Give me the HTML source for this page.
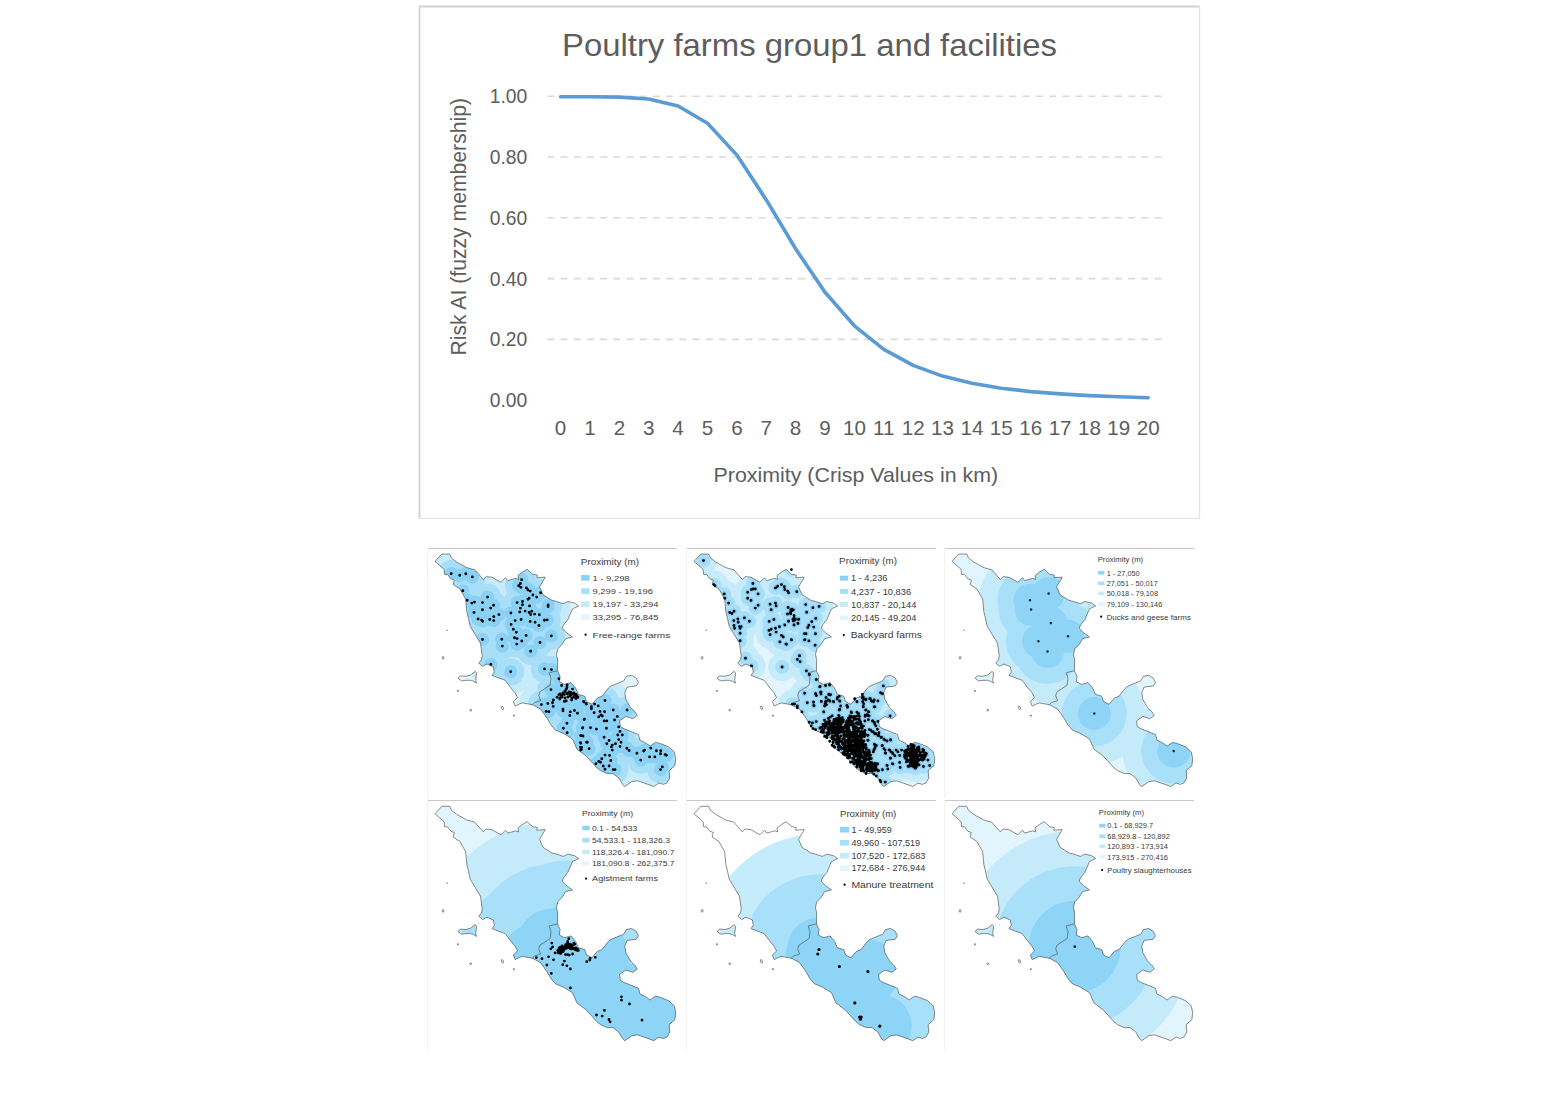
<!DOCTYPE html><html><head><meta charset="utf-8"><style>html,body{margin:0;padding:0;background:#fff;overflow:hidden}svg{display:block}text{font-family:"Liberation Sans",sans-serif}</style></head><body>
<svg width="1559" height="1099" viewBox="0 0 1559 1099">
<defs>
<path id="lz" d="M8.0,14.2 14.8,6.8 22.7,6.8 24.5,10.8 29.6,14.8 39.8,20.5 47.8,22.7 56.3,32.4 59.1,29.6 64.8,30.1 73.9,35.3 78.5,30.7 80.8,33.6 88.7,31.3 91.6,32.4 91.0,28.4 95.5,25.0 100.1,22.2 105.8,27.3 110.3,27.9 109.8,30.7 118.3,30.1 112.6,39.8 116.0,47.8 125.0,53.5 129.5,54.6 136.4,56.9 140.9,54.6 147.7,56.3 151.7,59.1 145.5,62.0 140.9,72.8 136.4,78.5 135.2,81.9 139.8,86.4 145.5,90.4 138.6,92.1 135.2,97.8 130.7,102.4 129.5,108.1 130.7,113.7 130.4,124.6 133.1,130.0 132.2,135.5 137.7,138.2 144.0,136.4 148.6,141.9 151.3,148.2 157.7,150.1 159.5,155.5 165.0,158.3 170.4,151.9 175.0,150.1 181.4,141.9 184.1,139.8 196.7,134.7 199.5,130.1 204.6,129.0 209.2,131.8 211.4,136.4 209.2,139.8 200.1,140.9 197.8,146.6 198.9,153.4 203.5,161.4 208.0,166.0 210.3,169.4 205.8,172.8 198.9,170.5 192.6,174.9 193.3,180.7 196.9,182.9 204.2,185.8 211.5,188.8 213.0,194.6 218.0,196.8 223.2,200.4 228.3,196.8 232.6,197.5 241.4,201.1 247.2,206.2 248.7,212.8 247.9,220.1 242.1,225.2 242.8,232.5 239.9,237.6 236.3,239.0 231.9,237.6 226.8,241.2 221.0,239.0 210.8,235.4 205.0,236.1 197.7,241.2 195.5,239.0 191.8,232.5 186.0,228.1 180.2,228.1 173.6,225.2 170.0,222.3 159.1,210.3 150.0,203.5 145.5,193.2 136.4,187.6 128.3,184.2 123.7,178.7 120.1,172.3 113.7,163.2 105.5,158.7 95.5,156.9 92.8,157.8 88.2,160.1 86.4,155.5 90.5,151.4 88.2,146.9 83.7,141.4 78.2,134.1 70.9,131.4 65.0,129.1 67.3,125.9 66.4,120.5 60.0,117.7 55.5,120.0 51.8,116.8 54.6,113.2 55.2,109.2 53.5,96.7 43.2,79.6 41.5,71.7 39.8,64.8 38.7,52.3 33.0,42.1 26.2,37.5 27.3,33.0 23.9,31.8 20.5,27.3 17.6,27.3 17.1,22.2Z"/>
<path id="elba" d="M31.4,131.4 33.6,129.6 39.1,130.0 43.6,128.7 48.2,125.0 49.6,126.8 48.7,134.1 49.6,136.9 46.4,135.0 43.6,134.1 39.1,134.1 34.5,134.6 31.8,132.8Z"/>
<path id="isl" d="M19.9,83.1 l0.6,0.6 l-0.6,0.4 z M15.2,111.4 a0.9,1.4 0 1,0 1.8,0 a0.9,1.4 0 1,0 -1.8,0 z M30.3,144.3 l1.2,0 l-0.6,1.4 z M42.8,164.2 a0.9,0.9 0 1,0 1.8,0 a0.9,0.9 0 1,0 -1.8,0 z M74.4,160.2 l1.5,0.3 l0.8,2.6 l-1.1,0.6 l-1.3,-2 z M86.4,169.2 l1,0 l0,1 l-1,0 z M51.2,124 l0.4,0.4 M55.3,125 l0.4,0.3"/>
<clipPath id="clz1"><path transform="translate(0,-0.7) scale(1,0.992)" d="M8.0,14.2 14.8,6.8 22.7,6.8 24.5,10.8 29.6,14.8 39.8,20.5 47.8,22.7 56.3,32.4 59.1,29.6 64.8,30.1 73.9,35.3 78.5,30.7 80.8,33.6 88.7,31.3 91.6,32.4 91.0,28.4 95.5,25.0 100.1,22.2 105.8,27.3 110.3,27.9 109.8,30.7 118.3,30.1 112.6,39.8 116.0,47.8 125.0,53.5 129.5,54.6 136.4,56.9 140.9,54.6 147.7,56.3 151.7,59.1 145.5,62.0 140.9,72.8 136.4,78.5 135.2,81.9 139.8,86.4 145.5,90.4 138.6,92.1 135.2,97.8 130.7,102.4 129.5,108.1 130.7,113.7 130.4,124.6 133.1,130.0 132.2,135.5 137.7,138.2 144.0,136.4 148.6,141.9 151.3,148.2 157.7,150.1 159.5,155.5 165.0,158.3 170.4,151.9 175.0,150.1 181.4,141.9 184.1,139.8 196.7,134.7 199.5,130.1 204.6,129.0 209.2,131.8 211.4,136.4 209.2,139.8 200.1,140.9 197.8,146.6 198.9,153.4 203.5,161.4 208.0,166.0 210.3,169.4 205.8,172.8 198.9,170.5 192.6,174.9 193.3,180.7 196.9,182.9 204.2,185.8 211.5,188.8 213.0,194.6 218.0,196.8 223.2,200.4 228.3,196.8 232.6,197.5 241.4,201.1 247.2,206.2 248.7,212.8 247.9,220.1 242.1,225.2 242.8,232.5 239.9,237.6 236.3,239.0 231.9,237.6 226.8,241.2 221.0,239.0 210.8,235.4 205.0,236.1 197.7,241.2 195.5,239.0 191.8,232.5 186.0,228.1 180.2,228.1 173.6,225.2 170.0,222.3 159.1,210.3 150.0,203.5 145.5,193.2 136.4,187.6 128.3,184.2 123.7,178.7 120.1,172.3 113.7,163.2 105.5,158.7 95.5,156.9 92.8,157.8 88.2,160.1 86.4,155.5 90.5,151.4 88.2,146.9 83.7,141.4 78.2,134.1 70.9,131.4 65.0,129.1 67.3,125.9 66.4,120.5 60.0,117.7 55.5,120.0 51.8,116.8 54.6,113.2 55.2,109.2 53.5,96.7 43.2,79.6 41.5,71.7 39.8,64.8 38.7,52.3 33.0,42.1 26.2,37.5 27.3,33.0 23.9,31.8 20.5,27.3 17.6,27.3 17.1,22.2Z"/><path transform="translate(0,-0.7) scale(1,0.992)" d="M31.4,131.4 33.6,129.6 39.1,130.0 43.6,128.7 48.2,125.0 49.6,126.8 48.7,134.1 49.6,136.9 46.4,135.0 43.6,134.1 39.1,134.1 34.5,134.6 31.8,132.8Z"/></clipPath>
<clipPath id="clz2"><path transform="translate(0,-0.5)" d="M8.0,14.2 14.8,6.8 22.7,6.8 24.5,10.8 29.6,14.8 39.8,20.5 47.8,22.7 56.3,32.4 59.1,29.6 64.8,30.1 73.9,35.3 78.5,30.7 80.8,33.6 88.7,31.3 91.6,32.4 91.0,28.4 95.5,25.0 100.1,22.2 105.8,27.3 110.3,27.9 109.8,30.7 118.3,30.1 112.6,39.8 116.0,47.8 125.0,53.5 129.5,54.6 136.4,56.9 140.9,54.6 147.7,56.3 151.7,59.1 145.5,62.0 140.9,72.8 136.4,78.5 135.2,81.9 139.8,86.4 145.5,90.4 138.6,92.1 135.2,97.8 130.7,102.4 129.5,108.1 130.7,113.7 130.4,124.6 133.1,130.0 132.2,135.5 137.7,138.2 144.0,136.4 148.6,141.9 151.3,148.2 157.7,150.1 159.5,155.5 165.0,158.3 170.4,151.9 175.0,150.1 181.4,141.9 184.1,139.8 196.7,134.7 199.5,130.1 204.6,129.0 209.2,131.8 211.4,136.4 209.2,139.8 200.1,140.9 197.8,146.6 198.9,153.4 203.5,161.4 208.0,166.0 210.3,169.4 205.8,172.8 198.9,170.5 192.6,174.9 193.3,180.7 196.9,182.9 204.2,185.8 211.5,188.8 213.0,194.6 218.0,196.8 223.2,200.4 228.3,196.8 232.6,197.5 241.4,201.1 247.2,206.2 248.7,212.8 247.9,220.1 242.1,225.2 242.8,232.5 239.9,237.6 236.3,239.0 231.9,237.6 226.8,241.2 221.0,239.0 210.8,235.4 205.0,236.1 197.7,241.2 195.5,239.0 191.8,232.5 186.0,228.1 180.2,228.1 173.6,225.2 170.0,222.3 159.1,210.3 150.0,203.5 145.5,193.2 136.4,187.6 128.3,184.2 123.7,178.7 120.1,172.3 113.7,163.2 105.5,158.7 95.5,156.9 92.8,157.8 88.2,160.1 86.4,155.5 90.5,151.4 88.2,146.9 83.7,141.4 78.2,134.1 70.9,131.4 65.0,129.1 67.3,125.9 66.4,120.5 60.0,117.7 55.5,120.0 51.8,116.8 54.6,113.2 55.2,109.2 53.5,96.7 43.2,79.6 41.5,71.7 39.8,64.8 38.7,52.3 33.0,42.1 26.2,37.5 27.3,33.0 23.9,31.8 20.5,27.3 17.6,27.3 17.1,22.2Z"/><path transform="translate(0,-0.5)" d="M31.4,131.4 33.6,129.6 39.1,130.0 43.6,128.7 48.2,125.0 49.6,126.8 48.7,134.1 49.6,136.9 46.4,135.0 43.6,134.1 39.1,134.1 34.5,134.6 31.8,132.8Z"/></clipPath>
<path id="d0" d="M24.2 25.7h0M32.8 27.3h0M38.8 25.7h0M45.3 28.9h0M35.8 42.8h0M40.2 52.2h0M44.8 55.1h0M47.5 54.1h0M47.0 64.4h0M55.5 54.6h0M55.5 61.7h0M60.6 49.1h0M63.7 60.1h0M66.6 57.3h0M71.9 66.6h0M66.8 68.8h0M66.8 72.6h0M62.8 71.5h0M51.1 71.0h0M54.6 72.1h0M55.7 73.2h0M55.5 91.5h0M74.8 91.2h0M75.3 98.1h0M63.9 116.3h0M83.9 65.0h0M88.2 72.6h0M84.1 76.4h0M86.3 81.3h0M89.3 84.3h0M87.4 89.8h0M90.1 90.6h0M89.8 96.1h0M94.8 93.0h0M99.1 87.4h0M103.7 103.2h0M113.0 94.5h0M94.6 31.7h0M93.4 35.5h0M91.7 37.7h0M93.9 39.3h0M99.4 39.9h0M101.0 42.0h0M103.2 43.1h0M113.6 44.8h0M105.9 47.0h0M109.7 49.1h0M102.1 50.2h0M101.0 51.3h0M90.1 54.6h0M95.5 53.5h0M95.5 56.8h0M93.4 60.1h0M102.6 57.9h0M92.8 63.9h0M98.1 63.1h0M102.1 64.4h0M104.8 63.3h0M103.7 66.6h0M107.6 66.1h0M112.3 66.8h0M94.1 71.5h0M103.2 73.4h0M108.1 74.3h0M111.9 77.5h0M117.4 72.1h0M121.1 57.0h0M121.1 58.6h0M117.3 72.3h0M120.2 71.9h0M112.0 77.7h0M124.3 87.9h0M83.7 123.8h0M117.5 120.9h0M124.4 121.6h0M131.9 130.7h0M134.6 137.5h0M140.1 137.0h0M139.2 141.1h0M145.5 141.1h0M138.3 143.8h0M131.9 146.6h0M134.6 147.5h0M137.3 146.6h0M140.1 145.7h0M142.8 146.1h0M144.6 146.6h0M146.4 146.1h0M148.3 147.5h0M151.0 149.3h0M144.6 152.0h0M139.2 152.9h0M137.3 153.4h0M132.8 151.1h0M130.1 149.3h0M126.4 152.0h0M125.5 154.8h0M126.2 158.4h0M120.8 155.5h0M114.4 156.6h0M124.0 141.6h0M119.1 163.4h0M121.9 163.7h0M136.0 161.1h0M136.0 162.8h0M143.3 163.9h0M147.4 162.5h0M150.5 165.2h0M142.8 167.5h0M157.2 171.6h0M139.9 175.2h0M136.3 180.2h0M140.1 184.8h0M155.5 180.1h0M153.7 187.5h0M156.0 188.0h0M153.7 195.3h0M154.6 199.4h0M153.7 202.1h0M159.6 194.3h0M156.9 153.9h0M159.2 155.7h0M140.0 139.0h0M139.5 141.0h0M138.0 143.0h0M136.0 145.0h0M133.0 146.0h0M142.0 144.0h0M144.0 144.5h0M147.0 145.0h0M149.0 146.5h0M150.0 148.0h0M143.0 148.0h0M141.0 149.0h0M135.0 149.0h0M133.0 150.0h0M145.0 150.0h0M147.0 149.0h0M138.0 150.0h0M149.0 150.5h0M178.0 152.5h0M156.6 153.4h0M159.4 156.1h0M167.6 156.1h0M171.2 157.9h0M164.4 158.8h0M164.4 160.7h0M167.1 164.8h0M173.0 163.4h0M177.6 163.8h0M186.2 162.0h0M200.1 162.0h0M173.9 167.0h0M171.7 168.9h0M175.3 168.0h0M190.3 168.4h0M187.6 172.0h0M177.1 172.9h0M179.8 172.9h0M157.4 171.3h0M155.7 179.8h0M163.5 179.8h0M169.4 181.1h0M179.4 180.2h0M191.7 178.9h0M193.0 183.4h0M190.8 187.0h0M195.3 187.0h0M153.9 187.5h0M177.1 189.3h0M182.1 192.5h0M191.7 191.6h0M194.0 194.3h0M188.5 195.7h0M185.3 197.1h0M193.0 198.4h0M184.4 198.9h0M179.8 195.7h0M160.3 194.3h0M162.1 200.7h0M185.3 202.1h0M199.9 200.2h0M202.1 202.5h0M209.9 205.2h0M216.7 203.0h0M217.6 202.1h0M223.8 200.1h0M229.4 202.8h0M233.8 202.8h0M233.5 205.7h0M238.1 206.6h0M239.4 207.3h0M222.6 208.9h0M227.8 208.9h0M213.8 212.1h0M178.0 207.1h0M182.6 207.5h0M174.8 210.7h0M183.8 212.5h0M171.7 213.4h0M173.5 214.3h0M168.9 215.7h0M176.2 218.0h0M182.1 218.0h0M178.0 221.2h0M186.2 221.6h0M188.0 221.6h0M235.3 218.9h0M233.5 221.6h0M153.5 194.8h0M153.5 199.3h0M154.4 201.6h0"/>
<path id="d1" d="M17.5 12.6h0M105.4 21.6h0M27.8 36.6h0M28.9 37.7h0M38.2 45.9h0M38.8 50.2h0M42.6 55.1h0M43.7 64.4h0M45.9 65.5h0M48.0 63.3h0M47.8 72.6h0M51.9 71.0h0M52.2 74.3h0M48.0 77.5h0M48.6 80.3h0M53.5 78.6h0M55.1 78.6h0M54.1 80.3h0M54.1 85.2h0M54.1 92.8h0M58.4 69.9h0M63.3 73.2h0M59.5 110.3h0M65.5 117.9h0M66.9 35.5h0M65.5 41.5h0M67.2 40.9h0M69.3 40.9h0M61.7 44.2h0M72.1 45.9h0M61.7 50.2h0M65.0 52.4h0M72.1 57.3h0M69.3 60.1h0M89.5 39.9h0M91.7 38.2h0M95.5 36.6h0M98.3 38.8h0M98.8 41.5h0M101.6 43.1h0M102.6 44.8h0M110.8 43.7h0M84.1 56.2h0M89.5 55.1h0M90.1 57.9h0M85.2 61.7h0M102.1 59.5h0M104.8 61.7h0M106.5 62.2h0M104.3 65.0h0M101.6 66.1h0M108.1 67.7h0M107.6 71.0h0M109.2 72.1h0M112.5 71.5h0M102.6 73.2h0M111.9 75.3h0M108.1 77.0h0M87.9 71.5h0M83.2 73.4h0M98.8 77.0h0M93.4 78.8h0M89.5 80.3h0M83.0 82.4h0M85.2 81.3h0M90.1 84.1h0M84.1 86.8h0M95.5 87.4h0M97.2 89.0h0M93.9 93.9h0M99.9 96.1h0M105.4 91.7h0M118.5 85.7h0M119.0 91.7h0M113.6 107.6h0M111.4 111.4h0M114.1 113.6h0M96.1 119.0h0M119.7 56.6h0M126.9 59.8h0M133.1 58.4h0M120.7 64.2h0M105.8 61.3h0M107.3 62.0h0M104.7 63.8h0M101.5 66.0h0M104.7 65.7h0M108.0 67.8h0M108.0 70.0h0M106.9 71.5h0M107.3 72.9h0M109.5 71.1h0M112.7 71.1h0M102.5 73.3h0M112.0 75.5h0M108.0 76.9h0M129.8 70.4h0M125.8 73.7h0M122.9 77.3h0M121.8 79.5h0M127.7 79.1h0M120.0 85.7h0M129.5 85.7h0M105.5 91.9h0M118.6 91.9h0M122.9 92.9h0M100.4 96.2h0M129.1 97.3h0M113.5 107.9h0M120.4 122.9h0M123.6 126.6h0M130.4 131.6h0M134.1 138.4h0M139.5 137.5h0M143.6 136.6h0M118.6 145.2h0M129.5 145.7h0M130.4 147.5h0M134.5 144.3h0M135.0 146.1h0M142.7 146.6h0M144.1 147.0h0M140.0 149.8h0M151.4 149.8h0M153.2 148.4h0M121.3 154.8h0M127.5 154.3h0M127.7 157.5h0M135.4 153.4h0M139.5 153.4h0M143.2 152.5h0M147.7 153.9h0M139.5 156.6h0M138.6 158.0h0M106.3 156.1h0M108.6 156.1h0M111.3 158.0h0M111.3 159.8h0M115.9 163.9h0M137.7 163.9h0M153.2 162.1h0M123.2 126.5h0M130.2 131.6h0M133.7 138.9h0M139.7 137.6h0M143.6 137.0h0M135.0 144.0h0M135.0 145.9h0M129.6 145.6h0M130.2 147.5h0M142.9 146.2h0M144.5 146.8h0M140.1 149.4h0M151.5 149.4h0M151.2 151.0h0M121.3 154.8h0M127.6 154.2h0M128.0 157.7h0M135.3 153.5h0M140.4 153.2h0M142.3 151.9h0M143.9 153.2h0M139.1 155.8h0M138.8 157.7h0M140.4 156.7h0M147.4 153.5h0M153.8 153.2h0M154.7 158.0h0M153.8 161.8h0M161.1 157.7h0M161.7 158.9h0M168.7 150.7h0M171.0 153.8h0M176.4 146.5h0M176.1 149.7h0M177.6 151.3h0M179.9 151.9h0M184.3 150.7h0M185.6 153.2h0M187.5 153.8h0M176.7 153.8h0M177.6 155.8h0M177.3 158.9h0M188.8 158.9h0M179.6 162.1h0M182.4 164.0h0M181.1 166.6h0M179.2 167.2h0M183.1 167.9h0M137.8 164.0h0M153.1 167.9h0M156.3 169.8h0M156.9 173.0h0M160.1 176.8h0M165.2 164.0h0M171.0 164.4h0M172.2 165.9h0M163.9 167.9h0M164.9 169.1h0M167.8 171.0h0M166.5 173.6h0M165.9 174.9h0M146.1 167.9h0M144.2 169.1h0M142.3 170.4h0M138.5 172.3h0M139.7 174.9h0M138.5 176.8h0M141.7 174.9h0M143.6 173.0h0M149.3 173.0h0M151.2 171.7h0M152.5 174.2h0M148.0 175.5h0M150.6 178.7h0M144.8 178.7h0M146.8 180.0h0M154.4 178.0h0M155.7 179.3h0M157.6 180.6h0M160.8 180.6h0M123.2 174.2h0M126.4 174.9h0M130.2 173.6h0M125.1 178.0h0M127.0 180.6h0M129.6 181.6h0M186.9 173.0h0M188.8 176.1h0M184.3 181.9h0M186.9 183.8h0M188.8 185.7h0M182.4 171.7h0M178.9 173.0h0M183.3 181.6h0M186.0 183.5h0M189.0 185.5h0M192.0 187.5h0M195.0 189.5h0M198.0 191.2h0M201.1 193.0h0M188.4 174.5h0M189.9 177.9h0M191.4 181.3h0M192.9 184.7h0M182.0 187.3h0M182.0 192.4h0M188.4 196.2h0M190.3 197.5h0M189.0 200.0h0M187.8 202.6h0M196.1 197.8h0M198.0 200.7h0M199.2 205.1h0M203.1 201.9h0M205.0 203.8h0M206.9 205.8h0M208.8 207.7h0M204.6 191.7h0M204.3 210.2h0M191.6 216.0h0M201.1 217.5h0M201.8 221.0h0M206.9 216.0h0M196.4 221.7h0M180.8 219.1h0M184.6 220.4h0M188.4 220.4h0M191.0 221.7h0M180.1 225.5h0M187.8 226.1h0M190.3 228.0h0M194.1 232.5h0M194.8 233.8h0M199.2 234.1h0M197.3 137.9h0M196.4 145.7h0M194.6 144.7h0M176.4 146.6h0M177.3 149.3h0M180.0 151.1h0M183.7 150.7h0M185.5 152.9h0M188.2 152.0h0M191.9 152.9h0M188.2 158.9h0M168.7 151.1h0M170.9 153.8h0M160.9 157.5h0M161.4 159.3h0M153.6 152.9h0M153.6 161.1h0M177.3 158.4h0M180.0 162.0h0M182.8 163.9h0M181.8 167.5h0M179.1 168.4h0M165.5 164.8h0M170.9 164.3h0M172.7 165.7h0M204.1 168.0h0M186.4 173.0h0M191.9 173.4h0M152.7 167.5h0M155.5 170.2h0M157.3 173.9h0M159.1 177.5h0M184.6 182.1h0M187.3 183.9h0M190.0 185.7h0M192.8 187.5h0M195.5 189.3h0M199.1 192.1h0M204.6 192.1h0M181.8 187.5h0M181.8 192.1h0M189.1 197.5h0M188.2 201.2h0M187.3 203.9h0M196.4 197.5h0M199.1 202.1h0M199.6 205.3h0M203.7 202.1h0M206.4 204.8h0M210.1 202.1h0M211.9 203.9h0M215.5 202.1h0M213.7 207.5h0M204.6 210.3h0M191.4 215.7h0M201.0 217.5h0M206.4 215.7h0M213.7 214.4h0M214.1 219.4h0M241.9 212.1h0M243.7 217.5h0M237.4 218.5h0M153.1 179.1h0M162.4 195.7h0M161.8 193.7h0M148.9 182.2h0M174.5 186.2h0M173.5 212.2h0M185.0 221.0h0M147.1 181.3h0M177.1 200.3h0M185.4 214.9h0M146.0 184.8h0M165.3 201.3h0M164.6 214.3h0M169.0 185.0h0M174.0 203.4h0M142.6 179.6h0M174.2 192.5h0M157.4 194.9h0M168.3 198.0h0M138.3 176.3h0M171.9 198.5h0M170.8 212.4h0M182.1 206.2h0M158.0 183.2h0M141.6 187.0h0M165.5 169.0h0M167.3 176.2h0M172.1 191.9h0M163.9 199.3h0M160.5 173.7h0M179.1 211.2h0M158.3 190.7h0M169.6 194.5h0M150.8 171.3h0M182.6 220.2h0M178.5 209.3h0M174.9 212.7h0M140.8 184.8h0M168.2 171.6h0M152.7 201.8h0M156.8 190.9h0M163.8 209.6h0M135.7 182.4h0M149.4 180.1h0M142.7 175.6h0M173.6 192.6h0M182.8 211.5h0M164.8 172.9h0M175.5 217.1h0M186.2 221.3h0M138.6 188.4h0M165.3 203.8h0M179.5 216.2h0M173.6 193.6h0M175.8 200.4h0M149.8 181.8h0M176.0 193.0h0M149.1 175.7h0M163.0 181.6h0M149.5 171.4h0M169.4 212.5h0M163.4 202.3h0M146.0 177.4h0M147.2 191.1h0M182.7 216.7h0M147.9 172.7h0M174.6 195.3h0M152.4 182.8h0M150.9 179.0h0M172.4 171.5h0M188.7 222.6h0M156.5 173.0h0M186.1 217.0h0M142.1 186.8h0M158.9 179.2h0M147.2 178.2h0M180.1 220.9h0M176.6 187.0h0M174.3 186.1h0M168.1 215.8h0M147.0 194.5h0M158.1 188.5h0M165.1 174.5h0M160.9 205.7h0M146.8 183.9h0M144.5 176.2h0M151.4 189.5h0M164.2 174.0h0M173.3 171.1h0M179.8 210.4h0M182.9 215.4h0M175.4 221.2h0M167.4 181.6h0M167.9 192.0h0M173.7 198.4h0M154.9 187.9h0M168.3 178.3h0M143.3 185.7h0M175.8 178.5h0M179.1 186.4h0M184.1 214.2h0M182.8 203.3h0M157.4 171.9h0M157.9 185.8h0M173.4 168.3h0M140.9 189.9h0M164.8 199.7h0M152.7 193.5h0M170.1 171.2h0M148.1 171.4h0M177.7 209.3h0M169.8 175.2h0M160.4 198.3h0M150.4 172.6h0M186.1 223.5h0M152.2 199.3h0M179.8 210.5h0M171.2 189.4h0M172.8 183.2h0M151.9 170.5h0M151.0 191.6h0M144.3 175.8h0M175.9 194.0h0M163.3 208.2h0M175.1 178.0h0M155.7 193.2h0M146.0 181.4h0M152.9 194.5h0M156.4 195.7h0M147.9 198.5h0M170.6 195.9h0M161.7 202.5h0M154.8 199.3h0M176.1 221.3h0M150.5 170.6h0M166.0 205.4h0M168.4 211.6h0M149.7 175.0h0M162.3 179.8h0M155.0 176.4h0M180.0 201.3h0M170.4 213.8h0M168.7 203.6h0M174.5 198.4h0M160.7 200.6h0M172.9 209.8h0M163.6 197.9h0M184.8 210.8h0M169.7 207.9h0M148.5 199.2h0M183.2 208.5h0M143.0 180.6h0M190.0 218.4h0M149.3 171.8h0M183.2 202.9h0M182.7 210.9h0M172.2 198.7h0M164.4 200.8h0M150.0 174.2h0M183.9 214.5h0M149.0 192.1h0M172.9 189.2h0M163.6 206.5h0M166.5 175.3h0M142.4 173.8h0M179.0 182.4h0M161.1 172.6h0M159.2 198.6h0M180.3 200.0h0M171.9 190.9h0M144.5 181.5h0M154.1 193.5h0M177.0 219.8h0M161.9 203.8h0M140.4 178.1h0M169.3 168.6h0M160.6 207.1h0M185.7 214.5h0M153.4 175.1h0M165.3 196.4h0M171.5 196.2h0M158.7 202.2h0M136.2 182.9h0M135.3 183.9h0M190.0 220.3h0M192.6 222.6h0M150.9 195.9h0M170.6 186.7h0M169.5 185.2h0M159.2 197.2h0M153.9 170.2h0M150.7 179.5h0M148.5 181.1h0M192.0 222.9h0M172.4 204.8h0M162.0 185.3h0M149.4 184.1h0M166.7 206.1h0M183.1 216.3h0M164.9 168.2h0M160.7 179.6h0M176.5 192.9h0M188.7 218.8h0M151.3 183.1h0M176.1 218.0h0M150.1 180.0h0M179.3 186.3h0M182.8 222.2h0M174.4 198.2h0M169.6 202.4h0M165.1 185.1h0M173.7 217.1h0M169.1 196.5h0M147.7 184.3h0M157.6 197.6h0M161.0 178.5h0M169.8 179.3h0M150.8 186.2h0M163.6 192.0h0M180.1 204.4h0M172.8 216.3h0M173.7 173.2h0M185.0 222.3h0M184.6 207.1h0M158.7 206.8h0M173.8 210.4h0M177.4 193.4h0M162.3 202.5h0M179.2 206.3h0M143.1 183.3h0M141.0 174.1h0M138.5 176.2h0M175.0 220.8h0M178.6 184.3h0M158.9 187.3h0M162.0 191.6h0M176.9 215.1h0M157.1 200.2h0M160.8 192.7h0M165.2 176.9h0M161.3 186.1h0M173.8 173.7h0M136.9 176.5h0M142.1 181.2h0M169.6 189.9h0M178.6 208.6h0M182.5 203.1h0M159.7 202.7h0M181.9 222.0h0M174.3 192.4h0M155.4 183.8h0M161.9 192.8h0M177.3 197.9h0M156.4 179.9h0M147.7 176.2h0M164.1 170.4h0M158.6 196.0h0M151.6 175.2h0M158.8 206.8h0M174.4 188.8h0M159.5 182.9h0M177.6 204.8h0M140.3 177.3h0M151.6 190.4h0M164.8 184.8h0M152.4 196.2h0M137.6 184.2h0M153.3 190.3h0M170.8 219.0h0M166.9 197.5h0M174.1 176.1h0M163.3 209.2h0M160.3 187.1h0M167.6 185.6h0M178.5 188.6h0M160.0 193.4h0M163.1 172.1h0M146.1 197.2h0M185.3 210.6h0M165.7 168.8h0M170.9 183.1h0M153.3 184.9h0M179.8 196.8h0M146.0 183.1h0M181.1 207.9h0M147.0 194.1h0M160.2 202.1h0M149.0 187.9h0M137.4 182.1h0M176.8 197.1h0M171.9 195.6h0M163.6 208.5h0M136.0 179.4h0M155.6 182.0h0M146.2 190.9h0M168.3 188.1h0M175.2 191.0h0M176.5 185.2h0M175.8 185.0h0M174.7 203.9h0M181.4 222.7h0M172.5 171.3h0M174.9 215.3h0M162.9 176.8h0M162.1 182.6h0M164.4 185.2h0M167.0 202.1h0M162.1 209.5h0M163.2 187.3h0M188.9 216.2h0M155.5 201.0h0M156.2 173.6h0M151.7 176.9h0M165.7 184.9h0M164.6 187.0h0M183.5 204.5h0M157.2 206.0h0M142.0 183.9h0M161.5 209.7h0M153.1 178.4h0M163.3 208.9h0M183.1 216.8h0M154.8 173.1h0M151.6 185.0h0M168.2 203.2h0M176.9 209.7h0M164.1 197.2h0M170.4 215.3h0M166.0 197.7h0M175.8 207.7h0M163.2 173.5h0M158.7 195.7h0M162.0 175.5h0M167.8 179.9h0M151.8 183.6h0M165.2 197.6h0M154.9 188.1h0M136.1 179.4h0M153.7 189.7h0M154.5 172.5h0M168.4 208.8h0M158.7 183.6h0M157.8 179.3h0M168.3 208.1h0M150.9 194.1h0M176.2 180.4h0M162.8 193.7h0M172.1 215.7h0M158.0 204.1h0M160.6 188.4h0M164.2 202.7h0M176.2 183.8h0M162.5 196.9h0M169.7 200.6h0M153.6 192.5h0M180.1 208.0h0M175.3 176.2h0M133.9 180.0h0M163.5 183.2h0M149.1 176.0h0M146.4 187.6h0M166.9 186.0h0M147.3 174.8h0M146.2 188.3h0M171.0 202.5h0M156.8 204.9h0M180.0 209.1h0M157.6 195.3h0M179.0 196.8h0M170.0 188.2h0M148.5 191.3h0M185.3 219.1h0M170.1 186.2h0M168.4 214.9h0M163.0 189.6h0M147.2 190.2h0M176.0 221.9h0M166.5 210.4h0M161.6 207.0h0M185.8 215.6h0M137.2 177.9h0M171.3 208.5h0M139.3 180.0h0M162.5 195.9h0M150.8 185.5h0M163.0 197.4h0M168.3 183.2h0M189.9 221.4h0M177.5 178.1h0M173.9 206.6h0M162.5 179.6h0M148.3 178.9h0M162.7 198.4h0M151.9 187.8h0M167.1 179.0h0M166.5 192.3h0M188.8 215.3h0M148.6 185.1h0M160.2 201.5h0M172.3 214.3h0M168.5 181.4h0M171.1 192.9h0M176.6 200.3h0M157.7 186.3h0M147.4 174.6h0M139.4 188.4h0M169.3 190.8h0M172.1 211.1h0M170.5 213.2h0M168.5 168.4h0M178.1 183.8h0M167.6 189.7h0M170.0 197.6h0M168.6 202.1h0M172.3 208.5h0M178.2 223.1h0M184.9 215.9h0M137.0 181.5h0M171.5 188.9h0M162.2 183.7h0M146.7 184.1h0M177.7 185.3h0M135.4 179.4h0M161.0 185.2h0M171.1 168.1h0M176.2 188.6h0M163.7 177.1h0M140.7 185.3h0M158.9 198.6h0M161.5 177.1h0M154.6 178.3h0M165.4 201.8h0M164.1 193.1h0M180.5 211.5h0M153.2 197.5h0M158.9 201.0h0M161.4 183.7h0M177.4 209.3h0M168.2 209.3h0M155.3 172.2h0M167.8 215.2h0M177.6 216.5h0M176.6 196.9h0M177.1 222.1h0M177.6 197.5h0M171.7 213.1h0M173.2 183.4h0M174.2 212.5h0M164.4 191.8h0M169.0 192.4h0M159.5 196.1h0M169.8 213.0h0M161.5 208.3h0M183.1 202.7h0M143.8 179.4h0M166.1 184.4h0M159.1 192.7h0M150.4 181.2h0M180.5 207.6h0M149.5 172.7h0M163.5 209.0h0M179.9 199.4h0M167.0 193.0h0M159.4 202.6h0M172.4 194.0h0M151.7 177.7h0M164.8 173.0h0M168.3 193.8h0M176.8 213.6h0M156.6 183.8h0M157.9 187.5h0M174.7 173.9h0M140.0 175.2h0M171.7 180.5h0M161.3 200.8h0M166.4 198.9h0M171.3 217.6h0M171.6 208.0h0M163.7 199.9h0M173.5 180.4h0M158.6 205.7h0M152.3 171.9h0M170.8 195.4h0M143.0 176.4h0M152.5 180.8h0M153.7 180.3h0M176.0 180.0h0M162.4 170.1h0M146.4 175.3h0M173.0 176.0h0M148.8 180.3h0M175.3 222.7h0M175.2 218.4h0M163.0 196.8h0M172.7 196.2h0M170.3 179.0h0M175.8 193.7h0M145.8 189.4h0M174.7 197.6h0M154.5 182.9h0M160.3 174.7h0M149.4 184.4h0M187.4 221.1h0M183.9 223.0h0M171.9 176.3h0M177.0 202.9h0M143.7 193.2h0M162.8 189.7h0M139.3 178.2h0M163.6 188.7h0M166.4 213.7h0M166.5 168.8h0M162.2 203.3h0M182.5 216.9h0M173.5 192.5h0M170.4 191.4h0M173.5 216.9h0M185.8 219.0h0M174.1 209.9h0M180.6 205.2h0M150.3 194.6h0M182.7 202.2h0M173.6 187.2h0M154.8 171.3h0M173.1 206.9h0M169.9 191.4h0M155.6 175.1h0M136.3 184.1h0M141.7 187.0h0M175.7 183.6h0M177.6 217.3h0M171.0 174.6h0M146.3 190.3h0M172.9 199.7h0M169.8 182.9h0M178.4 205.3h0M184.4 218.6h0M172.3 195.9h0M167.5 204.6h0M169.0 185.0h0M163.4 186.8h0M183.0 217.1h0M163.9 188.9h0M179.6 205.3h0M162.5 185.9h0M172.1 189.6h0M176.8 201.6h0M170.3 205.4h0M167.0 197.3h0M173.0 200.3h0M179.3 204.3h0M170.4 199.6h0M171.1 202.2h0M170.4 192.9h0M169.3 193.5h0M174.7 188.7h0M180.8 217.6h0M188.3 219.2h0M171.4 207.2h0M174.9 194.2h0M162.5 186.6h0M183.6 221.1h0M187.6 216.5h0M164.7 195.5h0M185.1 217.4h0M165.5 203.7h0M176.8 221.9h0M167.5 191.6h0M176.4 192.8h0M176.0 194.5h0M179.7 211.3h0M163.3 190.2h0M174.2 197.1h0M173.3 209.0h0M174.5 196.8h0M177.1 195.6h0M165.7 199.1h0M178.7 214.4h0M169.8 194.8h0M170.9 185.0h0M172.0 191.2h0M188.5 219.6h0M176.3 188.7h0M172.1 189.9h0M178.3 205.7h0M170.6 196.0h0M171.9 199.6h0M165.0 193.4h0M184.5 217.7h0M169.2 190.7h0M165.7 187.4h0M167.2 203.6h0M184.0 220.7h0M175.4 220.3h0M178.1 187.2h0M170.0 206.6h0M168.5 198.3h0M174.6 205.6h0M177.9 212.7h0M164.9 187.3h0M172.5 198.0h0M178.7 198.6h0M171.4 200.6h0M164.7 195.3h0M168.2 206.1h0M176.0 200.6h0M171.8 198.7h0M176.3 186.1h0M182.2 205.4h0M176.4 194.8h0M181.6 215.8h0M178.8 214.5h0M177.5 217.8h0M178.1 199.1h0M170.2 190.6h0M165.5 204.0h0M181.3 207.0h0M181.3 204.8h0M174.6 193.9h0M172.8 199.9h0M174.9 207.3h0M176.0 204.0h0M173.8 202.0h0M166.7 202.1h0M179.1 212.7h0M166.4 192.6h0M167.8 197.3h0M163.9 190.9h0M178.0 193.0h0M173.0 216.3h0M167.6 189.6h0M179.0 213.8h0M174.0 219.2h0M172.0 188.1h0M173.7 211.1h0M174.2 214.4h0M181.5 217.8h0M171.0 204.0h0M171.2 211.7h0M166.8 200.3h0M175.0 207.4h0M170.7 196.4h0M166.5 201.9h0M172.6 212.3h0M165.4 189.1h0M186.0 216.2h0M180.3 212.1h0M168.8 196.3h0M166.2 185.6h0M169.2 191.7h0M169.1 195.5h0M176.5 204.0h0M184.7 219.5h0M177.1 213.8h0M177.4 196.6h0M169.0 191.8h0M185.1 215.6h0M184.3 210.0h0M176.3 194.6h0M168.7 189.9h0M174.4 185.9h0M171.7 203.5h0M178.1 211.0h0M165.3 194.8h0M174.9 198.4h0M176.3 185.6h0M175.3 217.8h0M175.6 189.5h0M171.5 189.4h0M231.3 216.3h0M228.3 211.0h0M230.9 204.7h0M223.9 217.1h0M231.8 201.7h0M231.9 213.2h0M224.1 201.4h0M230.5 208.5h0M226.3 207.8h0M231.1 217.1h0M220.9 212.4h0M225.0 211.5h0M226.1 198.8h0M240.4 205.7h0M226.3 201.9h0M231.0 215.6h0M222.2 213.1h0M218.6 206.6h0M233.2 203.3h0M230.1 218.9h0M227.4 198.7h0M225.6 216.4h0M227.0 197.6h0M234.4 204.6h0M224.9 197.3h0M224.0 201.3h0M224.4 206.0h0M228.3 198.2h0M237.2 204.1h0M228.0 205.2h0M224.5 204.3h0M226.0 209.6h0M225.9 204.2h0M239.6 207.3h0M227.5 210.0h0M238.5 209.1h0M220.8 210.6h0M237.1 208.2h0M228.2 197.6h0M227.2 209.3h0M235.5 210.3h0M226.0 205.2h0M226.6 206.5h0M227.7 210.5h0M230.6 218.3h0M219.7 207.4h0M228.6 217.2h0M224.9 200.1h0M218.5 207.0h0M232.6 202.7h0M218.5 208.7h0M228.9 213.5h0M227.0 218.4h0M218.6 202.9h0M222.0 202.1h0M221.1 202.4h0M228.8 201.8h0M235.8 208.7h0M224.7 206.8h0M231.5 212.0h0M226.7 209.9h0M233.1 201.3h0M224.8 196.9h0M233.1 216.9h0M232.7 212.6h0M225.8 207.6h0M228.3 201.2h0M234.2 206.1h0M225.3 202.0h0M239.6 205.2h0M230.3 203.2h0M228.0 208.4h0M234.7 211.2h0M225.7 214.6h0M219.3 210.3h0M230.8 213.3h0M219.9 205.7h0M230.2 202.4h0M228.2 209.8h0M232.8 199.7h0M224.3 206.5h0M225.4 203.7h0M221.4 204.7h0M226.4 198.6h0M220.5 213.9h0M219.2 209.7h0M226.7 196.9h0M222.5 201.4h0M232.9 211.8h0M221.9 207.7h0M225.4 206.4h0M230.7 203.3h0M221.6 201.5h0M218.8 203.7h0M225.4 208.5h0M224.9 196.4h0M236.8 201.5h0M225.5 216.1h0M227.2 212.7h0M222.1 198.5h0M236.8 203.5h0M232.8 198.9h0M222.1 218.3h0M237.8 202.3h0M226.0 218.0h0M231.1 204.5h0M239.0 207.3h0M224.4 205.3h0M239.1 205.2h0M227.0 197.9h0M236.7 212.0h0M232.7 217.0h0M223.3 218.4h0M229.4 210.4h0M239.2 208.3h0M227.6 203.7h0M231.4 200.8h0M228.2 217.0h0M226.4 209.5h0M230.6 206.9h0M224.2 204.3h0M221.8 212.8h0M222.8 206.6h0M228.9 217.3h0M230.2 217.9h0M229.5 215.7h0M226.3 203.8h0M224.4 209.1h0M223.7 218.0h0M227.7 201.1h0M238.2 211.0h0M231.5 199.7h0M224.4 215.6h0M232.4 207.6h0M228.8 220.0h0M229.7 220.0h0M237.0 210.5h0M225.1 214.1h0M231.8 209.6h0M228.3 215.5h0M227.1 210.7h0M229.9 206.1h0M222.9 206.2h0M229.4 219.3h0M229.5 214.0h0M231.4 200.4h0M223.5 211.9h0M224.8 210.7h0M236.8 208.6h0M220.0 202.5h0M236.6 207.3h0M233.9 207.7h0M235.6 211.9h0M232.9 211.5h0M227.7 200.4h0M229.8 208.2h0M230.9 206.0h0M225.6 209.3h0M219.8 206.2h0M227.2 207.6h0M225.3 212.8h0M228.1 205.2h0M226.9 216.1h0M224.3 215.2h0M239.9 206.7h0"/>
<path id="d2" d="M104.6 45.5h0M86.0 52.3h0M87.1 61.4h0M106.9 75.1h0M124.0 88.3h0M94.4 93.3h0M103.5 103.5h0M150.3 165.6h0M229.7 203.1h0"/>
<path id="d3" d="M141.8 138.7h0M140.7 141.5h0M140.1 143.7h0M139.0 144.7h0M138.5 146.4h0M141.2 144.2h0M146.7 143.1h0M147.8 144.2h0M124.8 143.1h0M125.7 146.9h0M123.8 148.8h0M128.1 152.9h0M131.4 152.9h0M133.6 153.5h0M138.5 154.6h0M140.7 154.6h0M142.3 155.1h0M145.6 154.0h0M121.6 156.8h0M109.3 157.6h0M115.0 158.7h0M126.5 159.8h0M137.4 161.1h0M135.8 164.7h0M139.9 165.8h0M143.4 169.0h0M119.9 165.0h0M124.3 173.4h0M143.4 187.9h0M159.8 161.7h0M163.1 158.4h0M162.8 160.0h0M168.3 157.3h0M194.5 196.8h0M194.5 200.2h0M202.5 204.0h0M177.4 210.4h0M169.5 215.0h0M175.2 216.1h0M182.0 219.5h0M183.1 221.8h0M215.0 220.2h0M151.0 150.2h0M136.3 149.6h0M135.1 145.8h0M148.7 147.9h0M132.2 148.9h0M134.7 150.3h0M136.8 150.3h0M130.8 150.5h0M145.1 145.6h0M133.4 149.8h0M144.0 147.4h0M133.8 149.7h0M143.0 147.2h0M134.1 153.1h0M150.1 150.3h0M144.2 148.2h0M145.2 145.8h0M131.5 150.0h0M133.0 147.5h0M145.5 145.6h0M135.3 148.1h0M145.6 148.3h0M139.2 144.6h0M137.2 148.7h0M150.6 149.8h0M134.6 149.6h0M138.6 145.6h0M140.9 143.2h0M143.5 144.5h0M151.3 150.4h0M131.2 151.0h0M144.5 146.9h0M144.1 149.0h0M138.5 145.4h0M131.4 149.9h0M136.1 151.6h0M133.5 151.3h0M135.6 148.3h0M136.0 146.7h0M139.2 148.4h0M132.2 147.9h0M141.4 146.2h0M144.7 148.7h0M145.9 148.5h0M145.1 148.3h0M138.8 144.6h0M141.9 145.7h0M141.1 144.2h0M150.4 148.8h0M146.6 148.1h0M133.4 150.5h0M141.8 147.0h0M141.4 143.8h0M134.7 146.8h0M131.9 151.2h0M147.9 149.6h0M140.3 147.7h0M138.6 144.9h0M138.9 145.4h0M143.9 148.1h0M131.1 152.4h0M150.4 148.8h0M149.5 150.2h0M131.3 150.2h0M132.5 150.5h0M142.9 148.4h0M140.5 146.0h0M135.7 150.8h0M142.0 147.4h0M141.9 145.4h0"/>
<path id="d4" d="M133.0 149.5h0M131.8 154.0h0M153.4 166.5h0M181.9 171.6h0M168.8 202.9h0M173.6 217.1h0M175.2 217.1h0M174.4 219.2h0M193.8 226.2h0"/>
<path id="d5" d="M130.8 146.7h0"/>
</defs>
<g id="chart">
<line x1="419" y1="6.5" x2="1199.5" y2="6.5" stroke="#d2d2d2" stroke-width="1.8"/>
<line x1="419.5" y1="6" x2="419.5" y2="518.5" stroke="#d2d2d2" stroke-width="1.8"/>
<line x1="1199.5" y1="6.5" x2="1199.5" y2="518.5" stroke="#e2e2e2" stroke-width="1.2"/>
<line x1="419.5" y1="518.5" x2="1199.5" y2="518.5" stroke="#e2e2e2" stroke-width="1.2"/>
<line x1="546.5" y1="339.4" x2="1162.5" y2="339.4" stroke="#d9d9d9" stroke-width="1.6" stroke-dasharray="6.9 6.3" stroke-dashoffset="-0.9"/>
<line x1="546.5" y1="278.6" x2="1162.5" y2="278.6" stroke="#d9d9d9" stroke-width="1.6" stroke-dasharray="6.9 6.3" stroke-dashoffset="-0.9"/>
<line x1="546.5" y1="217.8" x2="1162.5" y2="217.8" stroke="#d9d9d9" stroke-width="1.6" stroke-dasharray="6.9 6.3" stroke-dashoffset="-0.9"/>
<line x1="546.5" y1="157.0" x2="1162.5" y2="157.0" stroke="#d9d9d9" stroke-width="1.6" stroke-dasharray="6.9 6.3" stroke-dashoffset="-0.9"/>
<line x1="546.5" y1="96.2" x2="1162.5" y2="96.2" stroke="#d9d9d9" stroke-width="1.6" stroke-dasharray="6.9 6.3" stroke-dashoffset="-0.9"/>
<polyline points="560.6,96.8 590.0,96.8 619.4,97.1 648.7,99.0 678.1,106.0 707.5,123.3 736.9,155.1 766.3,199.9 795.6,248.8 825.0,292.3 854.4,325.8 883.8,349.4 913.2,365.4 942.5,376.1 971.9,383.3 1001.3,388.2 1030.7,391.6 1060.1,393.9 1089.4,395.6 1118.8,396.8 1148.2,397.7" fill="none" stroke="#5b9bd5" stroke-width="3.6" stroke-linejoin="round" stroke-linecap="round"/>
<text x="527.3" y="407.2" text-anchor="end" font-size="20.2" fill="#5d5d5d" textLength="37.5" lengthAdjust="spacingAndGlyphs">0.00</text>
<text x="527.3" y="346.4" text-anchor="end" font-size="20.2" fill="#5d5d5d" textLength="37.5" lengthAdjust="spacingAndGlyphs">0.20</text>
<text x="527.3" y="285.6" text-anchor="end" font-size="20.2" fill="#5d5d5d" textLength="37.5" lengthAdjust="spacingAndGlyphs">0.40</text>
<text x="527.3" y="224.8" text-anchor="end" font-size="20.2" fill="#5d5d5d" textLength="37.5" lengthAdjust="spacingAndGlyphs">0.60</text>
<text x="527.3" y="164.0" text-anchor="end" font-size="20.2" fill="#5d5d5d" textLength="37.5" lengthAdjust="spacingAndGlyphs">0.80</text>
<text x="527.3" y="103.2" text-anchor="end" font-size="20.2" fill="#5d5d5d" textLength="37.5" lengthAdjust="spacingAndGlyphs">1.00</text>
<text x="560.6" y="434.6" text-anchor="middle" font-size="20.6" fill="#5d5d5d">0</text>
<text x="590.0" y="434.6" text-anchor="middle" font-size="20.6" fill="#5d5d5d">1</text>
<text x="619.4" y="434.6" text-anchor="middle" font-size="20.6" fill="#5d5d5d">2</text>
<text x="648.7" y="434.6" text-anchor="middle" font-size="20.6" fill="#5d5d5d">3</text>
<text x="678.1" y="434.6" text-anchor="middle" font-size="20.6" fill="#5d5d5d">4</text>
<text x="707.5" y="434.6" text-anchor="middle" font-size="20.6" fill="#5d5d5d">5</text>
<text x="736.9" y="434.6" text-anchor="middle" font-size="20.6" fill="#5d5d5d">6</text>
<text x="766.3" y="434.6" text-anchor="middle" font-size="20.6" fill="#5d5d5d">7</text>
<text x="795.6" y="434.6" text-anchor="middle" font-size="20.6" fill="#5d5d5d">8</text>
<text x="825.0" y="434.6" text-anchor="middle" font-size="20.6" fill="#5d5d5d">9</text>
<text x="854.4" y="434.6" text-anchor="middle" font-size="20.6" fill="#5d5d5d">10</text>
<text x="883.8" y="434.6" text-anchor="middle" font-size="20.6" fill="#5d5d5d">11</text>
<text x="913.2" y="434.6" text-anchor="middle" font-size="20.6" fill="#5d5d5d">12</text>
<text x="942.5" y="434.6" text-anchor="middle" font-size="20.6" fill="#5d5d5d">13</text>
<text x="971.9" y="434.6" text-anchor="middle" font-size="20.6" fill="#5d5d5d">14</text>
<text x="1001.3" y="434.6" text-anchor="middle" font-size="20.6" fill="#5d5d5d">15</text>
<text x="1030.7" y="434.6" text-anchor="middle" font-size="20.6" fill="#5d5d5d">16</text>
<text x="1060.1" y="434.6" text-anchor="middle" font-size="20.6" fill="#5d5d5d">17</text>
<text x="1089.4" y="434.6" text-anchor="middle" font-size="20.6" fill="#5d5d5d">18</text>
<text x="1118.8" y="434.6" text-anchor="middle" font-size="20.6" fill="#5d5d5d">19</text>
<text x="1148.2" y="434.6" text-anchor="middle" font-size="20.6" fill="#5d5d5d">20</text>
<text x="562" y="55.9" font-size="31.8" fill="#5d5d5d" textLength="495" lengthAdjust="spacingAndGlyphs">Poultry farms group1 and facilities</text>
<text x="713.6" y="481.9" font-size="21" fill="#5d5d5d" textLength="284.5" lengthAdjust="spacingAndGlyphs">Proximity (Crisp Values in km)</text>
<text transform="translate(465.6,355.5) rotate(-90)" x="0" y="0" font-size="22.4" fill="#5d5d5d" textLength="257.5" lengthAdjust="spacingAndGlyphs">Risk AI (fuzzy membership)</text>
</g>
<g transform="translate(427,548)">
<line x1="0" y1="0.5" x2="250" y2="0.5" stroke="#c8c8c8" stroke-width="1"/>
<line x1="0.5" y1="0" x2="0.5" y2="250" stroke="#f2f2f2" stroke-width="1"/>
</g>
<g transform="translate(427,548)">
<g clip-path="url(#clz1)">
<rect x="0" y="0" width="250" height="250" fill="#e2f5fc"/>
<use href="#d0" fill="none" stroke="#c6ebfa" stroke-width="45.0" stroke-linecap="round"/>
<use href="#d0" fill="none" stroke="#a8def8" stroke-width="27.2" stroke-linecap="round"/>
<use href="#d0" fill="none" stroke="#8ad2f5" stroke-width="13.2" stroke-linecap="round"/>
</g>
</g>
<g transform="translate(427,547.3) scale(1,0.992)">
<g fill="none" stroke="#5a5a5a" stroke-width="0.7">
<use href="#lz"/><use href="#elba"/><use href="#isl"/>
<path d="M104.9,159.2 107.6,156.4 113.6,154.6 111.7,149.2 113.1,145.5 123.1,139.1 124.0,131.9 122.2,126.4 129.5,124.6 130.4,124.6"/>
</g>
</g>
<use href="#d0" transform="translate(427,548)" fill="none" stroke="#000" stroke-width="2.9" stroke-linecap="round"/>
<g transform="translate(427,548)" fill="#3a3a3a">
<text x="153.8" y="16.7" font-size="9.64" textLength="58.3" lengthAdjust="spacingAndGlyphs">Proximity (m)</text>
<rect x="154.1" y="27.0" width="8.6" height="5.6" fill="#8ad2f5"/>
<text x="165.5" y="32.6" font-size="7.82" textLength="37.1" lengthAdjust="spacingAndGlyphs">1 - 9,298</text>
<rect x="154.1" y="40.3" width="8.6" height="5.6" fill="#a8def8"/>
<text x="165.5" y="45.9" font-size="7.82" textLength="60.5" lengthAdjust="spacingAndGlyphs">9,299 - 19,196</text>
<rect x="154.1" y="53.5" width="8.6" height="5.6" fill="#c6ebfa"/>
<text x="165.5" y="59.1" font-size="7.82" textLength="66.1" lengthAdjust="spacingAndGlyphs">19,197 - 33,294</text>
<rect x="154.1" y="66.6" width="8.6" height="5.6" fill="#e2f5fc"/>
<text x="165.5" y="72.2" font-size="7.82" textLength="66.1" lengthAdjust="spacingAndGlyphs">33,295 - 76,845</text>
<circle cx="158.6" cy="86.7" r="1.1" fill="#000"/>
<text x="165.5" y="89.5" font-size="7.82" textLength="77.8" lengthAdjust="spacingAndGlyphs">Free-range farms</text>
</g>
<g transform="translate(686,548)">
<line x1="0" y1="0.5" x2="250" y2="0.5" stroke="#c8c8c8" stroke-width="1"/>
<line x1="0.5" y1="0" x2="0.5" y2="250" stroke="#f2f2f2" stroke-width="1"/>
</g>
<g transform="translate(686,548)">
<g clip-path="url(#clz1)">
<rect x="0" y="0" width="250" height="250" fill="#e2f5fc"/>
<use href="#d1" fill="none" stroke="#c6ebfa" stroke-width="28.0" stroke-linecap="round"/>
<use href="#d1" fill="none" stroke="#a8def8" stroke-width="13.8" stroke-linecap="round"/>
<use href="#d1" fill="none" stroke="#8ad2f5" stroke-width="5.6" stroke-linecap="round"/>
</g>
</g>
<g transform="translate(686,547.3) scale(1,0.992)">
<g fill="none" stroke="#5a5a5a" stroke-width="0.7">
<use href="#lz"/><use href="#elba"/><use href="#isl"/>
<path d="M104.9,159.2 107.6,156.4 113.6,154.6 111.7,149.2 113.1,145.5 123.1,139.1 124.0,131.9 122.2,126.4 129.5,124.6 130.4,124.6"/>
</g>
</g>
<use href="#d1" transform="translate(686,548)" fill="none" stroke="#000" stroke-width="2.9" stroke-linecap="round"/>
<g transform="translate(686,548)" fill="#3a3a3a">
<text x="153.1" y="16.3" font-size="9.08" textLength="57.9" lengthAdjust="spacingAndGlyphs">Proximity (m)</text>
<rect x="153.9" y="27.7" width="8.3" height="4.9" fill="#8ad2f5"/>
<text x="165.0" y="33.1" font-size="8.52" textLength="36.5" lengthAdjust="spacingAndGlyphs">1 - 4,236</text>
<rect x="153.9" y="41.0" width="8.3" height="4.9" fill="#a8def8"/>
<text x="165.0" y="46.5" font-size="8.52" textLength="60.2" lengthAdjust="spacingAndGlyphs">4,237 - 10,836</text>
<rect x="153.9" y="54.0" width="8.3" height="4.9" fill="#c6ebfa"/>
<text x="165.0" y="59.5" font-size="8.52" textLength="65.4" lengthAdjust="spacingAndGlyphs">10,837 - 20,144</text>
<rect x="153.9" y="67.3" width="8.3" height="4.9" fill="#e2f5fc"/>
<text x="165.0" y="72.8" font-size="8.52" textLength="65.4" lengthAdjust="spacingAndGlyphs">20,145 - 49,204</text>
<circle cx="157.8" cy="87.1" r="1.1" fill="#000"/>
<text x="164.7" y="90.1" font-size="8.52" textLength="71.3" lengthAdjust="spacingAndGlyphs">Backyard farms</text>
</g>
<g transform="translate(944,548)">
<line x1="0" y1="0.5" x2="250" y2="0.5" stroke="#c8c8c8" stroke-width="1"/>
<line x1="0.5" y1="0" x2="0.5" y2="250" stroke="#f2f2f2" stroke-width="1"/>
</g>
<g transform="translate(944,548)">
<g clip-path="url(#clz1)">
<rect x="0" y="0" width="250" height="250" fill="#e0f5fc"/>
<use href="#d2" fill="none" stroke="#c5ebfa" stroke-width="102.0" stroke-linecap="round"/>
<use href="#d2" fill="none" stroke="#a9e0f9" stroke-width="65.0" stroke-linecap="round"/>
<use href="#d2" fill="none" stroke="#8dd4f7" stroke-width="33.0" stroke-linecap="round"/>
</g>
</g>
<g transform="translate(944,547.3) scale(1,0.992)">
<g fill="none" stroke="#5a5a5a" stroke-width="0.7">
<use href="#lz"/><use href="#elba"/><use href="#isl"/>
<path d="M104.9,159.2 107.6,156.4 113.6,154.6 111.7,149.2 113.1,145.5 123.1,139.1 124.0,131.9 122.2,126.4 129.5,124.6 130.4,124.6"/>
</g>
</g>
<use href="#d2" transform="translate(944,548)" fill="none" stroke="#0d2536" stroke-width="2.5" stroke-linecap="round"/>
<g transform="translate(944,548)" fill="#3a3a3a">
<text x="153.7" y="14.4" font-size="6.98" textLength="45.5" lengthAdjust="spacingAndGlyphs">Proximity (m)</text>
<rect x="154.1" y="23.1" width="6.3" height="3.5" fill="#8dd4f7"/>
<text x="162.7" y="27.5" font-size="7.40" textLength="33.0" lengthAdjust="spacingAndGlyphs">1 - 27,050</text>
<rect x="154.1" y="33.5" width="6.3" height="3.5" fill="#a9e0f9"/>
<text x="162.7" y="37.9" font-size="7.40" textLength="51.0" lengthAdjust="spacingAndGlyphs">27,051 - 50,017</text>
<rect x="154.1" y="43.6" width="6.3" height="3.5" fill="#c5ebfa"/>
<text x="162.7" y="48.0" font-size="7.40" textLength="51.3" lengthAdjust="spacingAndGlyphs">50,018 - 79,108</text>
<rect x="154.1" y="54.2" width="6.3" height="3.5" fill="#e0f5fc"/>
<text x="162.7" y="58.6" font-size="7.40" textLength="55.6" lengthAdjust="spacingAndGlyphs">79,109 - 130,146</text>
<circle cx="157.2" cy="68.7" r="1.1" fill="#000"/>
<text x="162.5" y="71.7" font-size="7.40" textLength="84.4" lengthAdjust="spacingAndGlyphs">Ducks and geese farms</text>
</g>
<g transform="translate(427,800)">
<line x1="0" y1="0.5" x2="250" y2="0.5" stroke="#c8c8c8" stroke-width="1"/>
<line x1="0.5" y1="0" x2="0.5" y2="250" stroke="#f2f2f2" stroke-width="1"/>
</g>
<g transform="translate(427,800)">
<g clip-path="url(#clz2)">
<rect x="0" y="0" width="250" height="250" fill="#e0f5fc"/>
<use href="#d3" fill="none" stroke="#c5ebfa" stroke-width="242.0" stroke-linecap="round"/>
<use href="#d3" fill="none" stroke="#a9e0f9" stroke-width="157.0" stroke-linecap="round"/>
<use href="#d3" fill="none" stroke="#8dd4f7" stroke-width="69.0" stroke-linecap="round"/>
</g>
</g>
<g transform="translate(427,799.5)">
<g fill="none" stroke="#5a5a5a" stroke-width="0.7">
<use href="#lz"/><use href="#elba"/><use href="#isl"/>
<path d="M104.9,159.2 107.6,156.4 113.6,154.6 111.7,149.2 113.1,145.5 123.1,139.1 124.0,131.9 122.2,126.4 129.5,124.6 130.4,124.6"/>
</g>
</g>
<use href="#d3" transform="translate(427,800)" fill="none" stroke="#000" stroke-width="2.8" stroke-linecap="round"/>
<g transform="translate(427,800)" fill="#3a3a3a">
<text x="154.9" y="15.9" font-size="7.96" textLength="51.2" lengthAdjust="spacingAndGlyphs">Proximity (m)</text>
<rect x="155.3" y="25.8" width="7.4" height="4.5" fill="#8dd4f7"/>
<text x="164.9" y="30.9" font-size="7.96" textLength="45.3" lengthAdjust="spacingAndGlyphs">0.1 - 54,533</text>
<rect x="155.3" y="37.9" width="7.4" height="4.5" fill="#a9e0f9"/>
<text x="164.9" y="43.0" font-size="7.96" textLength="78.0" lengthAdjust="spacingAndGlyphs">54,533.1 - 118,326.3</text>
<rect x="155.3" y="49.8" width="7.4" height="4.5" fill="#c5ebfa"/>
<text x="164.9" y="54.9" font-size="7.96" textLength="82.5" lengthAdjust="spacingAndGlyphs">118,326.4 - 181,090.7</text>
<rect x="155.3" y="61.1" width="7.4" height="4.5" fill="#e0f5fc"/>
<text x="164.9" y="66.2" font-size="7.96" textLength="82.5" lengthAdjust="spacingAndGlyphs">181,090.8 - 262,375.7</text>
<circle cx="159" cy="78.6" r="1.1" fill="#000"/>
<text x="165.1" y="81.4" font-size="7.96" textLength="65.9" lengthAdjust="spacingAndGlyphs">Agistment farms</text>
</g>
<g transform="translate(686,800)">
<line x1="0" y1="0.5" x2="250" y2="0.5" stroke="#c8c8c8" stroke-width="1"/>
<line x1="0.5" y1="0" x2="0.5" y2="250" stroke="#f2f2f2" stroke-width="1"/>
</g>
<g transform="translate(686,800)">
<g clip-path="url(#clz2)">
<rect x="0" y="0" width="250" height="250" fill="#ffffff"/>
<use href="#d4" fill="none" stroke="#c5ecfa" stroke-width="231.0" stroke-linecap="round"/>
<use href="#d4" fill="none" stroke="#a9e0f9" stroke-width="150.0" stroke-linecap="round"/>
<use href="#d4" fill="none" stroke="#8dd4f7" stroke-width="64.0" stroke-linecap="round"/>
</g>
</g>
<g transform="translate(686,799.5)">
<g fill="none" stroke="#5a5a5a" stroke-width="0.7">
<use href="#lz"/><use href="#elba"/><use href="#isl"/>
<path d="M104.9,159.2 107.6,156.4 113.6,154.6 111.7,149.2 113.1,145.5 123.1,139.1 124.0,131.9 122.2,126.4 129.5,124.6 130.4,124.6"/>
</g>
</g>
<use href="#d4" transform="translate(686,800)" fill="none" stroke="#000" stroke-width="3.2" stroke-linecap="round"/>
<g transform="translate(686,800)" fill="#3a3a3a">
<text x="154" y="17.1" font-size="8.80" textLength="56.3" lengthAdjust="spacingAndGlyphs">Proximity (m)</text>
<rect x="154" y="26.8" width="9.1" height="5.7" fill="#8dd4f7"/>
<text x="165.4" y="32.8" font-size="8.80" textLength="40.4" lengthAdjust="spacingAndGlyphs">1 - 49,959</text>
<rect x="154" y="39.9" width="9.1" height="5.7" fill="#a9e0f9"/>
<text x="165.4" y="45.9" font-size="8.80" textLength="68.8" lengthAdjust="spacingAndGlyphs">49,960 - 107,519</text>
<rect x="154" y="52.9" width="9.1" height="5.7" fill="#c5ecfa"/>
<text x="165.4" y="58.9" font-size="8.80" textLength="73.9" lengthAdjust="spacingAndGlyphs">107,520 - 172,683</text>
<rect x="154" y="65.4" width="9.1" height="5.7" fill="#e4f5fb"/>
<text x="165.4" y="71.4" font-size="8.80" textLength="73.9" lengthAdjust="spacingAndGlyphs">172,684 - 276,944</text>
<circle cx="158.6" cy="84.7" r="1.1" fill="#000"/>
<text x="165.4" y="87.9" font-size="8.80" textLength="81.9" lengthAdjust="spacingAndGlyphs">Manure treatment</text>
</g>
<g transform="translate(944,800)">
<line x1="0" y1="0.5" x2="250" y2="0.5" stroke="#c8c8c8" stroke-width="1"/>
<line x1="0.5" y1="0" x2="0.5" y2="250" stroke="#f2f2f2" stroke-width="1"/>
</g>
<g transform="translate(944,800)">
<g clip-path="url(#clz2)">
<rect x="0" y="0" width="250" height="250" fill="#e2f5fc"/>
<use href="#d5" fill="none" stroke="#c5ebfa" stroke-width="232.0" stroke-linecap="round"/>
<use href="#d5" fill="none" stroke="#a9e0f9" stroke-width="161.0" stroke-linecap="round"/>
<use href="#d5" fill="none" stroke="#8dd4f7" stroke-width="92.0" stroke-linecap="round"/>
</g>
</g>
<g transform="translate(944,799.5)">
<g fill="none" stroke="#5a5a5a" stroke-width="0.7">
<use href="#lz"/><use href="#elba"/><use href="#isl"/>
<path d="M104.9,159.2 107.6,156.4 113.6,154.6 111.7,149.2 113.1,145.5 123.1,139.1 124.0,131.9 122.2,126.4 129.5,124.6 130.4,124.6"/>
</g>
</g>
<use href="#d5" transform="translate(944,800)" fill="none" stroke="#0d2536" stroke-width="2.8" stroke-linecap="round"/>
<g transform="translate(944,800)" fill="#3a3a3a">
<text x="154.8" y="15.1" font-size="8.10" textLength="45.2" lengthAdjust="spacingAndGlyphs">Proximity (m)</text>
<rect x="155.2" y="23.8" width="6.2" height="3.7" fill="#8dd4f7"/>
<text x="163.3" y="28.2" font-size="7.12" textLength="45.7" lengthAdjust="spacingAndGlyphs">0.1 - 68,929.7</text>
<rect x="155.2" y="34.4" width="6.2" height="3.7" fill="#a9e0f9"/>
<text x="163.3" y="38.8" font-size="7.12" textLength="62.5" lengthAdjust="spacingAndGlyphs">68,929.8 - 120,892</text>
<rect x="155.2" y="44.5" width="6.2" height="3.7" fill="#c5ebfa"/>
<text x="163.3" y="48.9" font-size="7.12" textLength="60.7" lengthAdjust="spacingAndGlyphs">120,893 - 173,914</text>
<rect x="155.2" y="55.1" width="6.2" height="3.7" fill="#e2f5fc"/>
<text x="163.3" y="59.5" font-size="7.12" textLength="60.7" lengthAdjust="spacingAndGlyphs">173,915 - 270,416</text>
<circle cx="158.1" cy="70" r="1.1" fill="#000"/>
<text x="163.2" y="73.0" font-size="7.12" textLength="84.4" lengthAdjust="spacingAndGlyphs">Poultry slaughterhouses</text>
</g>
</svg></body></html>
